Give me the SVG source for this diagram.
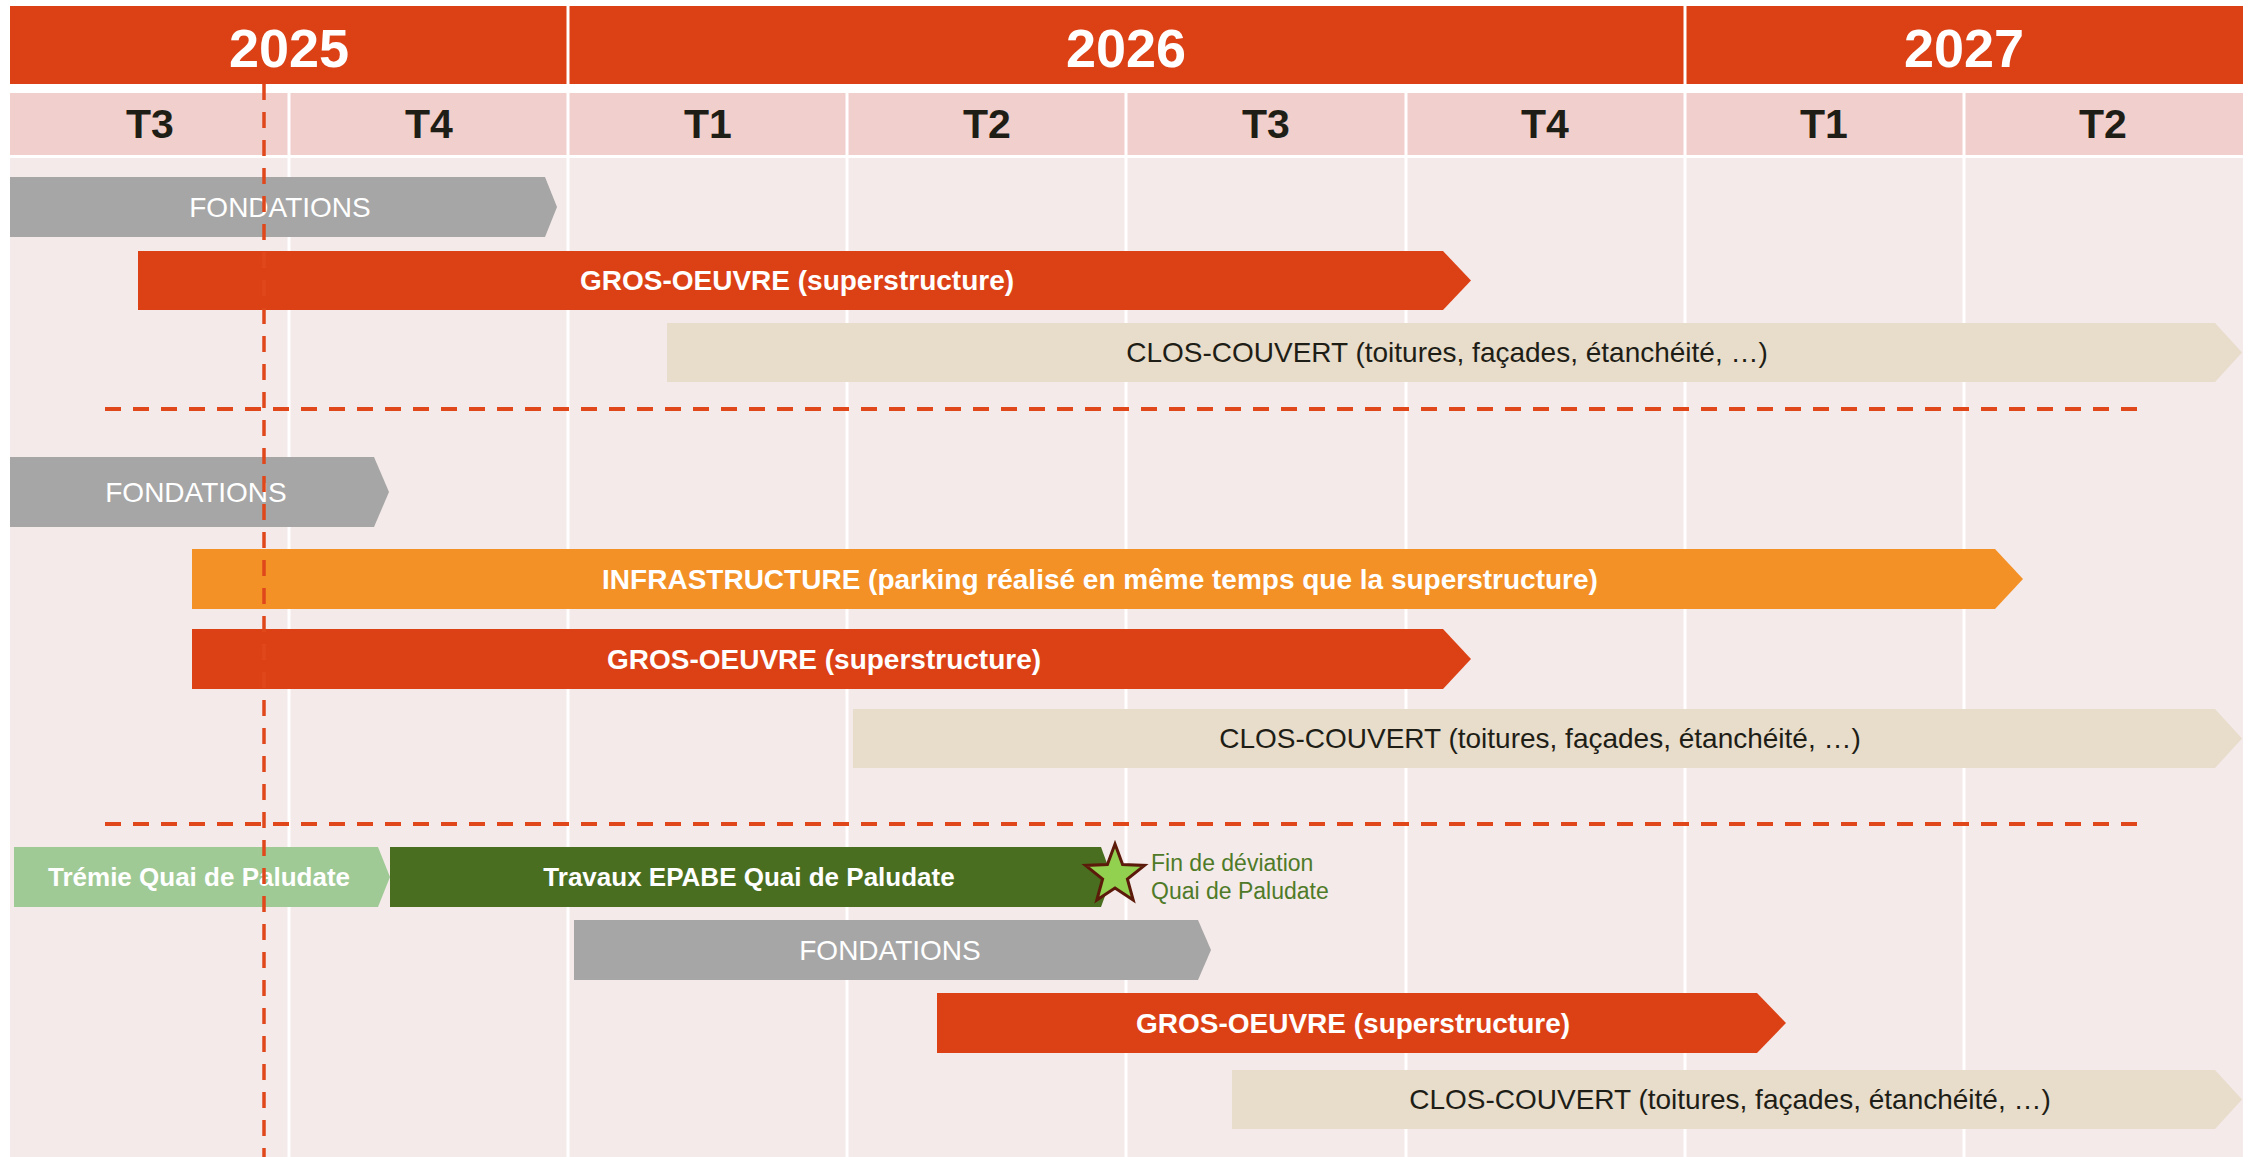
<svg xmlns="http://www.w3.org/2000/svg" width="2255" height="1157" viewBox="0 0 2255 1157">
<defs>
<style>
.yr{font-family:"Liberation Sans",Arial,sans-serif;font-weight:bold;font-size:54px;fill:#fff;text-anchor:middle}
.q{font-family:"Liberation Sans",Arial,sans-serif;font-weight:bold;font-size:41px;fill:#1e1e16;text-anchor:middle}
.lbl{font-family:"Liberation Sans",Arial,sans-serif;font-size:28px;text-anchor:middle}
.w{fill:#fff}
.b{font-weight:bold}
.dk{fill:#1e1e16}
.gray{fill:#a6a6a6}
.red{fill:#dc4116}
.beige{fill:#e8dccb}
.orange{fill:#f39026}
.lgreen{fill:#a0ca95}
.dgreen{fill:#4a6e1f}
.grid{stroke:#fff;stroke-width:3}
.dash{stroke:#e0481c;fill:none}
.note{font-family:"Liberation Sans",Arial,sans-serif;font-size:23px;fill:#4f7a28}
</style>
</defs>
<rect width="2255" height="1157" fill="#fff"/>
<g id="timeline-header">
<rect x="10" y="6" width="2233" height="78" fill="#dc4116"/>
<line class="grid" x1="568" y1="6" x2="568" y2="84"/>
<line class="grid" x1="1685" y1="6" x2="1685" y2="84"/>
<text class="yr" x="289" y="67">2025</text>
<text class="yr" x="1126" y="67">2026</text>
<text class="yr" x="1964" y="67">2027</text>
<rect x="10" y="93" width="2233" height="62" fill="#f1cfcc"/>
<rect x="10" y="158" width="2233" height="999" fill="#f4eae9"/>
<g class="grid">
<line x1="289" y1="93" x2="289" y2="1157"/>
<line x1="568" y1="93" x2="568" y2="1157"/>
<line x1="847" y1="93" x2="847" y2="1157"/>
<line x1="1126" y1="93" x2="1126" y2="1157"/>
<line x1="1406" y1="93" x2="1406" y2="1157"/>
<line x1="1685" y1="93" x2="1685" y2="1157"/>
<line x1="1964" y1="93" x2="1964" y2="1157"/>
</g>
<text class="q" x="150" y="138">T3</text>
<text class="q" x="429" y="138">T4</text>
<text class="q" x="708" y="138">T1</text>
<text class="q" x="987" y="138">T2</text>
<text class="q" x="1266" y="138">T3</text>
<text class="q" x="1545" y="138">T4</text>
<text class="q" x="1824" y="138">T1</text>
<text class="q" x="2103" y="138">T2</text>
</g>
<g id="r1-fondations"><path class="gray" d="M10 177H545L557 207L545 237H10Z"/><text class="lbl w" x="280" y="217">FONDATIONS</text></g>
<g id="r1-gros-oeuvre"><path class="red" d="M138 251H1443L1471 280.5L1443 310H138Z"/><text class="lbl w b" x="797" y="290">GROS-OEUVRE (superstructure)</text></g>
<g id="r1-clos-couvert"><path class="beige" d="M667 323H2215L2242 352.5L2215 382H667Z"/><text class="lbl dk" x="1447" y="362">CLOS-COUVERT (toitures, façades, étanchéité, …)</text></g>
<g id="r2-fondations"><path class="gray" d="M10 457H374L389 492L374 527H10Z"/><text class="lbl w" x="196" y="502">FONDATIONS</text></g>
<g id="r2-infrastructure"><path class="orange" d="M192 549H1995L2023 579L1995 609H192Z"/><text class="lbl w b" x="1100" y="589">INFRASTRUCTURE (parking réalisé en même temps que la superstructure)</text></g>
<g id="r2-gros-oeuvre"><path class="red" d="M192 629H1443L1471 659L1443 689H192Z"/><text class="lbl w b" x="824" y="669">GROS-OEUVRE (superstructure)</text></g>
<g id="r2-clos-couvert"><path class="beige" d="M853 709H2215L2242 738.5L2215 768H853Z"/><text class="lbl dk" x="1540" y="748">CLOS-COUVERT (toitures, façades, étanchéité, …)</text></g>
<g id="r3-tremie"><path class="lgreen" d="M14 847H378L390 877L378 907H14Z"/><text class="lbl w b" style="font-size:26px" x="199" y="886">Trémie Quai de Paludate</text></g>
<g id="r3-travaux"><path class="dgreen" d="M390 847H1101L1112 877L1101 907H390Z"/><text class="lbl w b" style="font-size:26px" x="749" y="886">Travaux EPABE Quai de Paludate</text></g>
<g id="r3-milestone">
<polygon points="1115,844 1122.6,864.5 1144.5,865.4 1127.4,879 1133.2,900.1 1115,888 1096.8,900.1 1102.6,879 1085.5,865.4 1107.4,864.5" fill="#92d050" stroke="#5c1a0a" stroke-width="3" stroke-linejoin="miter"/>
<text class="note" x="1151" y="871">Fin de déviation</text>
<text class="note" x="1151" y="899">Quai de Paludate</text>
</g>
<g id="r3-fondations"><path class="gray" d="M574 920H1198L1211 950L1198 980H574Z"/><text class="lbl w" x="890" y="960">FONDATIONS</text></g>
<g id="r3-gros-oeuvre"><path class="red" d="M937 993H1757L1786 1023L1757 1053H937Z"/><text class="lbl w b" x="1353" y="1033">GROS-OEUVRE (superstructure)</text></g>
<g id="r3-clos-couvert"><path class="beige" d="M1232 1070H2215L2242 1099.5L2215 1129H1232Z"/><text class="lbl dk" x="1730" y="1109">CLOS-COUVERT (toitures, façades, étanchéité, …)</text></g>
<g id="connectors">
<line class="dash" x1="105" y1="409" x2="2138" y2="409" stroke-width="4" stroke-dasharray="16 12"/>
<line class="dash" x1="105" y1="824" x2="2138" y2="824" stroke-width="4" stroke-dasharray="16 12"/>
<line class="dash" x1="264" y1="84" x2="264" y2="1157" stroke-width="3.5" stroke-dasharray="16 12"/>
</g>
</svg>
